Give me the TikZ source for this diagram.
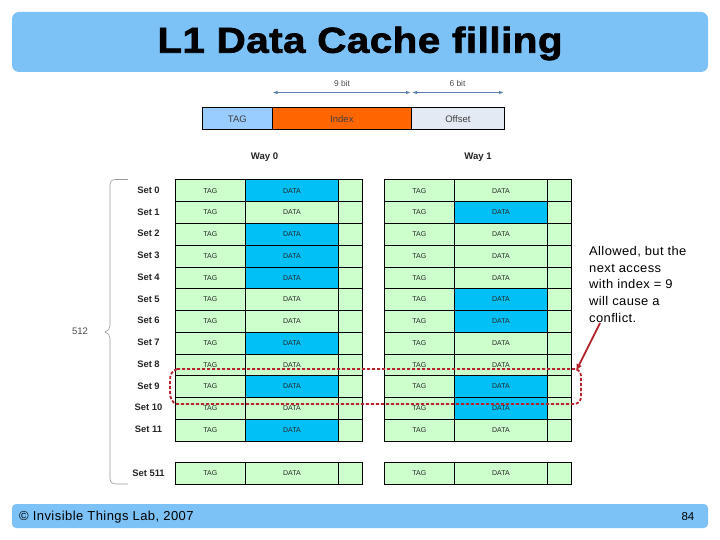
\documentclass[tikz,border=0pt]{standalone}
\usepackage{fontspec}
\setmainfont{Liberation Sans}
\newfontfamily\titlefont[LetterSpace=1.4,FakeStretch=1.12,FakeBold=2]{Liberation Sans Bold}
\newfontfamily\notefont[LetterSpace=3,FakeStretch=1.03]{Liberation Sans}
\newfontfamily\footfont[LetterSpace=3.4]{Liberation Sans}
\usetikzlibrary{arrows.meta}
\definecolor{barblue}{HTML}{7DC2F6}
\definecolor{cellgreen}{HTML}{CCFFCC}
\definecolor{cellblue}{HTML}{00C0F5}
\definecolor{tagblue}{HTML}{99CCFF}
\definecolor{idxorange}{HTML}{FF6600}
\definecolor{offgrey}{HTML}{E4EAF4}
\definecolor{arrowblue}{HTML}{5B7FA8}
\definecolor{redline}{HTML}{B5242C}
\tikzset{
  x=1pt,y=-1pt,
  barbox/.style={fill=barblue,draw=none,rounded corners=7pt},
  cellbox/.style={draw=black,line width=0.8pt,fill=cellgreen,anchor=north west,inner sep=0pt,font=\fontsize{7}{8}\selectfont,text=black!85},
  fieldbox/.style={draw=black,line width=0.8pt,anchor=north west,inner sep=0pt,minimum height=21.5pt,text height=7pt,text depth=0pt,font=\fontsize{9.5}{11}\selectfont,text=black!75},
  setlabel/.style={font=\bfseries\fontsize{9.4}{10}\selectfont,text=black!85},
  waylabel/.style={font=\bfseries\fontsize{9.6}{10}\selectfont,text=black!85},
  bitlabel/.style={font=\fontsize{8.4}{9}\selectfont,text=black!70},
  bitarrow/.style={draw=arrowblue,line width=0.9pt,{Latex[length=5pt,width=3.5pt]}-{Latex[length=5pt,width=3.5pt]}},
  bracket/.style={draw=black!40,line width=0.6pt},
  conflict/.style={draw=redline,line width=1.8pt,dash pattern=on 3.2pt off 1.8pt},
}
% args: way name, x origin, row id, y, height, data fill
\newcommand{\cacherow}[6]{%
  \node[cellbox,minimum width=70pt,minimum height=#5pt] (#1t#3) at (#2,#4) {TAG};
  \node[cellbox,minimum width=93pt,minimum height=#5pt,fill=#6] (#1d#3) at (#2+70,#4) {DATA};
  \node[cellbox,minimum width=23.5pt,minimum height=#5pt] (#1x#3) at (#2+163,#4) {};
}
\begin{document}
\begin{tikzpicture}
\useasboundingbox (0,0) rectangle (720,540);
\fill[white] (0,0) rectangle (720,540);
\node[barbox,minimum width=696pt,minimum height=60pt,inner sep=0pt] (titlebar) at (360,42) {};
\node[font=\titlefont\fontsize{36}{38}\selectfont,inner sep=0pt] (title) at (360,43.5) {L1 Data Cache filling};
\node[barbox,rounded corners=4pt,minimum width=696pt,minimum height=24pt,inner sep=0pt] (footbar) at (360,516) {};
\node[anchor=west,inner sep=0pt,font=\footfont\fontsize{13}{15}\selectfont] (copy) at (19,517) {© Invisible Things Lab, 2007};
\node[anchor=east,inner sep=0pt,font=\fontsize{11.5}{13}\selectfont] (page) at (694.5,516.5) {84};
% address fields
\node[fieldbox,fill=tagblue,minimum width=70pt] (ftag) at (202,107.5) {TAG};
\node[fieldbox,fill=idxorange,minimum width=139pt] (fidx) at (272,107.5) {Index};
\node[fieldbox,fill=offgrey,minimum width=93pt] (foff) at (411,107.5) {Offset};
\coordinate (a0) at (272.5,92.5);
\coordinate (a1) at (411,92.5);
\coordinate (a2) at (412,92.5);
\coordinate (a3) at (504,92.5);
\draw[bitarrow] (a0) -- (a1);
\draw[bitarrow] (a2) -- (a3);
\node[bitlabel] (b9) at (342,83.5) {9 bit};
\node[bitlabel] (b6) at (457.5,83.5) {6 bit};
\node[waylabel] (w0) at (264.5,157.5) {Way 0};
\node[waylabel] (w1) at (478,157.5) {Way 1};
% rows
\foreach \i/\fa/\fb in {0/cellblue/cellgreen,1/cellgreen/cellblue,2/cellblue/cellgreen,3/cellblue/cellgreen,4/cellblue/cellgreen,5/cellgreen/cellblue,6/cellgreen/cellblue,7/cellblue/cellgreen,8/cellgreen/cellgreen,9/cellblue/cellblue,10/cellgreen/cellblue,11/cellblue/cellgreen}{
  \pgfmathsetmacro{\yy}{179.5+21.75*\i}
  \cacherow{p}{175}{\i}{\yy}{21.75}{\fa}
  \cacherow{q}{384}{\i}{\yy}{21.75}{\fb}
  \node[setlabel] (s\i) at (148.5,\yy+10.7) {Set \i};
}
\cacherow{p}{175}{511}{462}{22}{cellgreen}
\cacherow{q}{384}{511}{462}{22}{cellgreen}
\node[setlabel] (s511) at (148.5,473) {Set 511};
% bracket
\coordinate (bt) at (128,179.5);
\coordinate (bb) at (128,484);
\coordinate (bm) at (105,332);
\draw[bracket] (bt) -- (116,179.5) .. controls (112,179.5) and (110,181) .. (110,185) -- (110,326) .. controls (110,329) and (108,331) .. (bm) .. controls (108,333) and (110,335) .. (110,338) -- (110,478) .. controls (110,482) and (112,484) .. (116,484) -- (bb);
\node[font=\fontsize{9.5}{11}\selectfont,text=black!70] (n512) at (80,331.5) {512};
% conflict outline
\draw[conflict] (177,369) -- (576,369) .. controls (580,371) and (581,373) .. (581,377) -- (581,396) .. controls (581,401) and (579,403) .. (575,404) -- (177,404) .. controls (172,403) and (170,398) .. (170,392) -- (170,381) .. controls (170,374) and (172,371) .. (177,369);
% callout
\node[anchor=north west,inner sep=0pt,align=left,font=\notefont\fontsize{12.6}{16.8}\selectfont] (note) at (589,246) {Allowed, but the\\next access\\with index = 9\\will cause a\\conflict.};
\coordinate (tip) at (576,371);
\coordinate (tail) at (600,323);
\draw[draw=redline,line width=1.8pt,-{Latex[length=7pt,width=6pt]}] (tail) -- (tip);
\end{tikzpicture}
\end{document}
